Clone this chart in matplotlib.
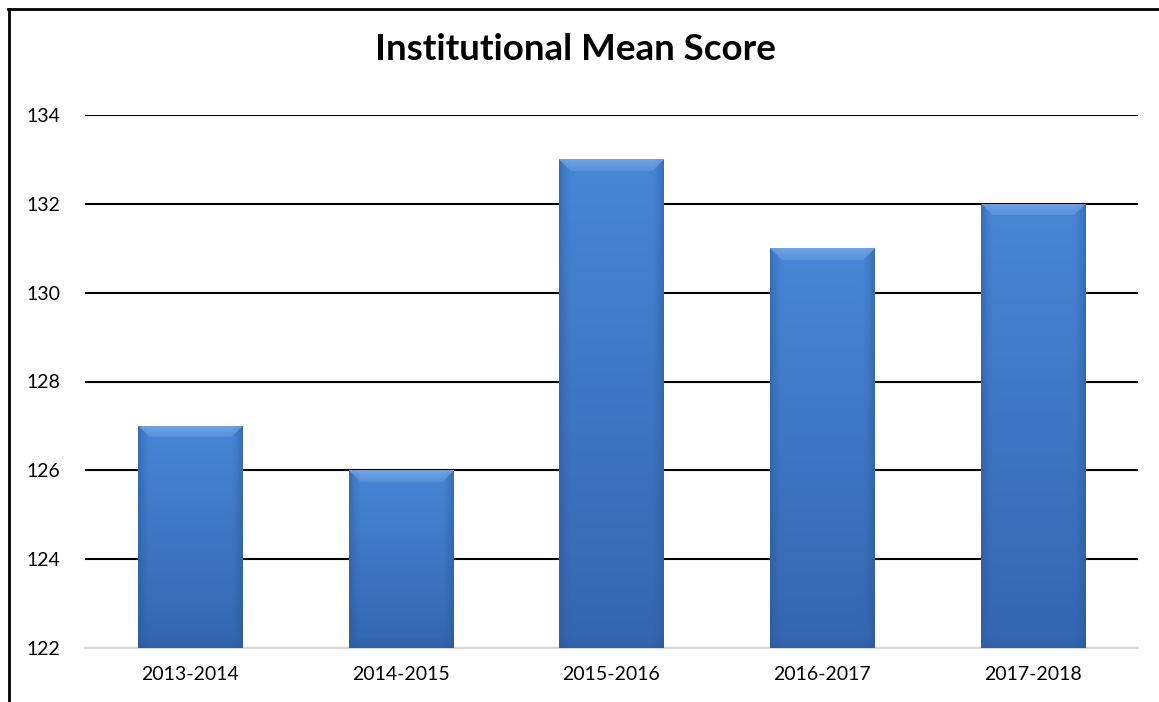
import numpy as np
import matplotlib
matplotlib.use("Agg")
import matplotlib.pyplot as plt
from matplotlib.lines import Line2D

categories = ["2013-2014", "2014-2015", "2015-2016", "2016-2017", "2017-2018"]
values = [127, 126, 133, 131, 132]
y_ticks = [122, 124, 126, 128, 130, 132, 134]
title = "Institutional Mean Score"

plt.rcParams['font.family'] = ['Lato', 'DejaVu Sans']

fig = plt.figure(figsize=(11.59, 7.02), dpi=100)
ax = fig.add_axes([85/1159, 1-648/702, (1138-85)/1159, (648-115)/702])

ax.set_ylim(122, 134)
ax.set_xlim(-0.5, len(categories)-0.5)
ax.set_yticks(y_ticks)
ax.yaxis.grid(True, color='black', linewidth=1.5)
ax.set_axisbelow(True)
for s in ['top', 'right', 'left']:
    ax.spines[s].set_visible(False)
ax.spines['bottom'].set_color('#d9d9d9')
ax.spines['bottom'].set_linewidth(1.5)
ax.tick_params(axis='both', length=0, labelsize=14, colors='black')
ax.tick_params(axis='y', pad=18)
ax.tick_params(axis='x', pad=13)

x = np.arange(len(categories))
bars = ax.bar(x, [v - 122 for v in values], bottom=122, width=0.495,
              color='#3d7acb', zorder=2)
ax.set_xticks(x)
ax.set_xticklabels(categories)

def hex2rgb(h):
    h = h.lstrip('#')
    return np.array([int(h[i:i+2], 16) for i in (0, 2, 4)]) / 255.0

top_c = hex2rgb('#4886d6')
bot_c = hex2rgb('#3466b0')
edge_c = hex2rgb('#2a5595')
hi_c = hex2rgb('#8ab8f0')

px_per_x = (1138-85) / len(categories)
px_per_y = (648-115) / 12.0

for b in bars:
    x0 = b.get_x(); w = b.get_width()
    y0 = b.get_y(); h = b.get_height()
    W = int(round(w * px_per_x)); H = int(round(h * px_per_y))
    yy, xx = np.mgrid[0:H, 0:W]
    t = yy / max(H-1, 1)
    img = top_c[None, None, :] * (1-t[..., None]) + bot_c[None, None, :] * t[..., None]
    dl = xx.astype(float); dr = W-1-xx; dt = yy.astype(float); db = H-1-yy
    bev = 12.0
    side = np.minimum(dl, dr)
    fs = np.clip(1 - side/bev, 0, 1)[..., None]**1.5
    img = img*(1-0.5*fs) + edge_c[None, None, :]*0.5*fs
    fb = np.clip(1 - db/bev, 0, 1)[..., None]**1.5
    img = img*(1-0.4*fb) + edge_c[None, None, :]*0.4*fb
    ftop = ((dt < bev) & (dt <= dl) & (dt <= dr))[..., None]
    grad = (0.35 + 0.65*(1 - dt/bev))[..., None]
    img = np.where(ftop, img*(1-0.6*grad) + hi_c[None, None, :]*0.6*grad, img)
    img = np.clip(img, 0, 1)
    im = ax.imshow(img, extent=(x0, x0+w, y0, y0+h), origin='upper',
                   aspect='auto', zorder=3, interpolation='bilinear')
    im.set_clip_path(b)

ax.set_xlim(-0.5, len(categories)-0.5)
ax.set_ylim(122, 134)

fig.text(575/1159, 1-50/702, title, ha='center', va='center',
         fontsize=26.5, fontweight='bold')

fig.add_artist(Line2D([8/1159, 1], [1-9/702, 1-9/702], color='black', lw=2,
                      transform=fig.transFigure))
fig.add_artist(Line2D([9/1159, 9/1159], [0, 1-9/702], color='black', lw=2,
                      transform=fig.transFigure))

fig.savefig('out.png', dpi=100)
